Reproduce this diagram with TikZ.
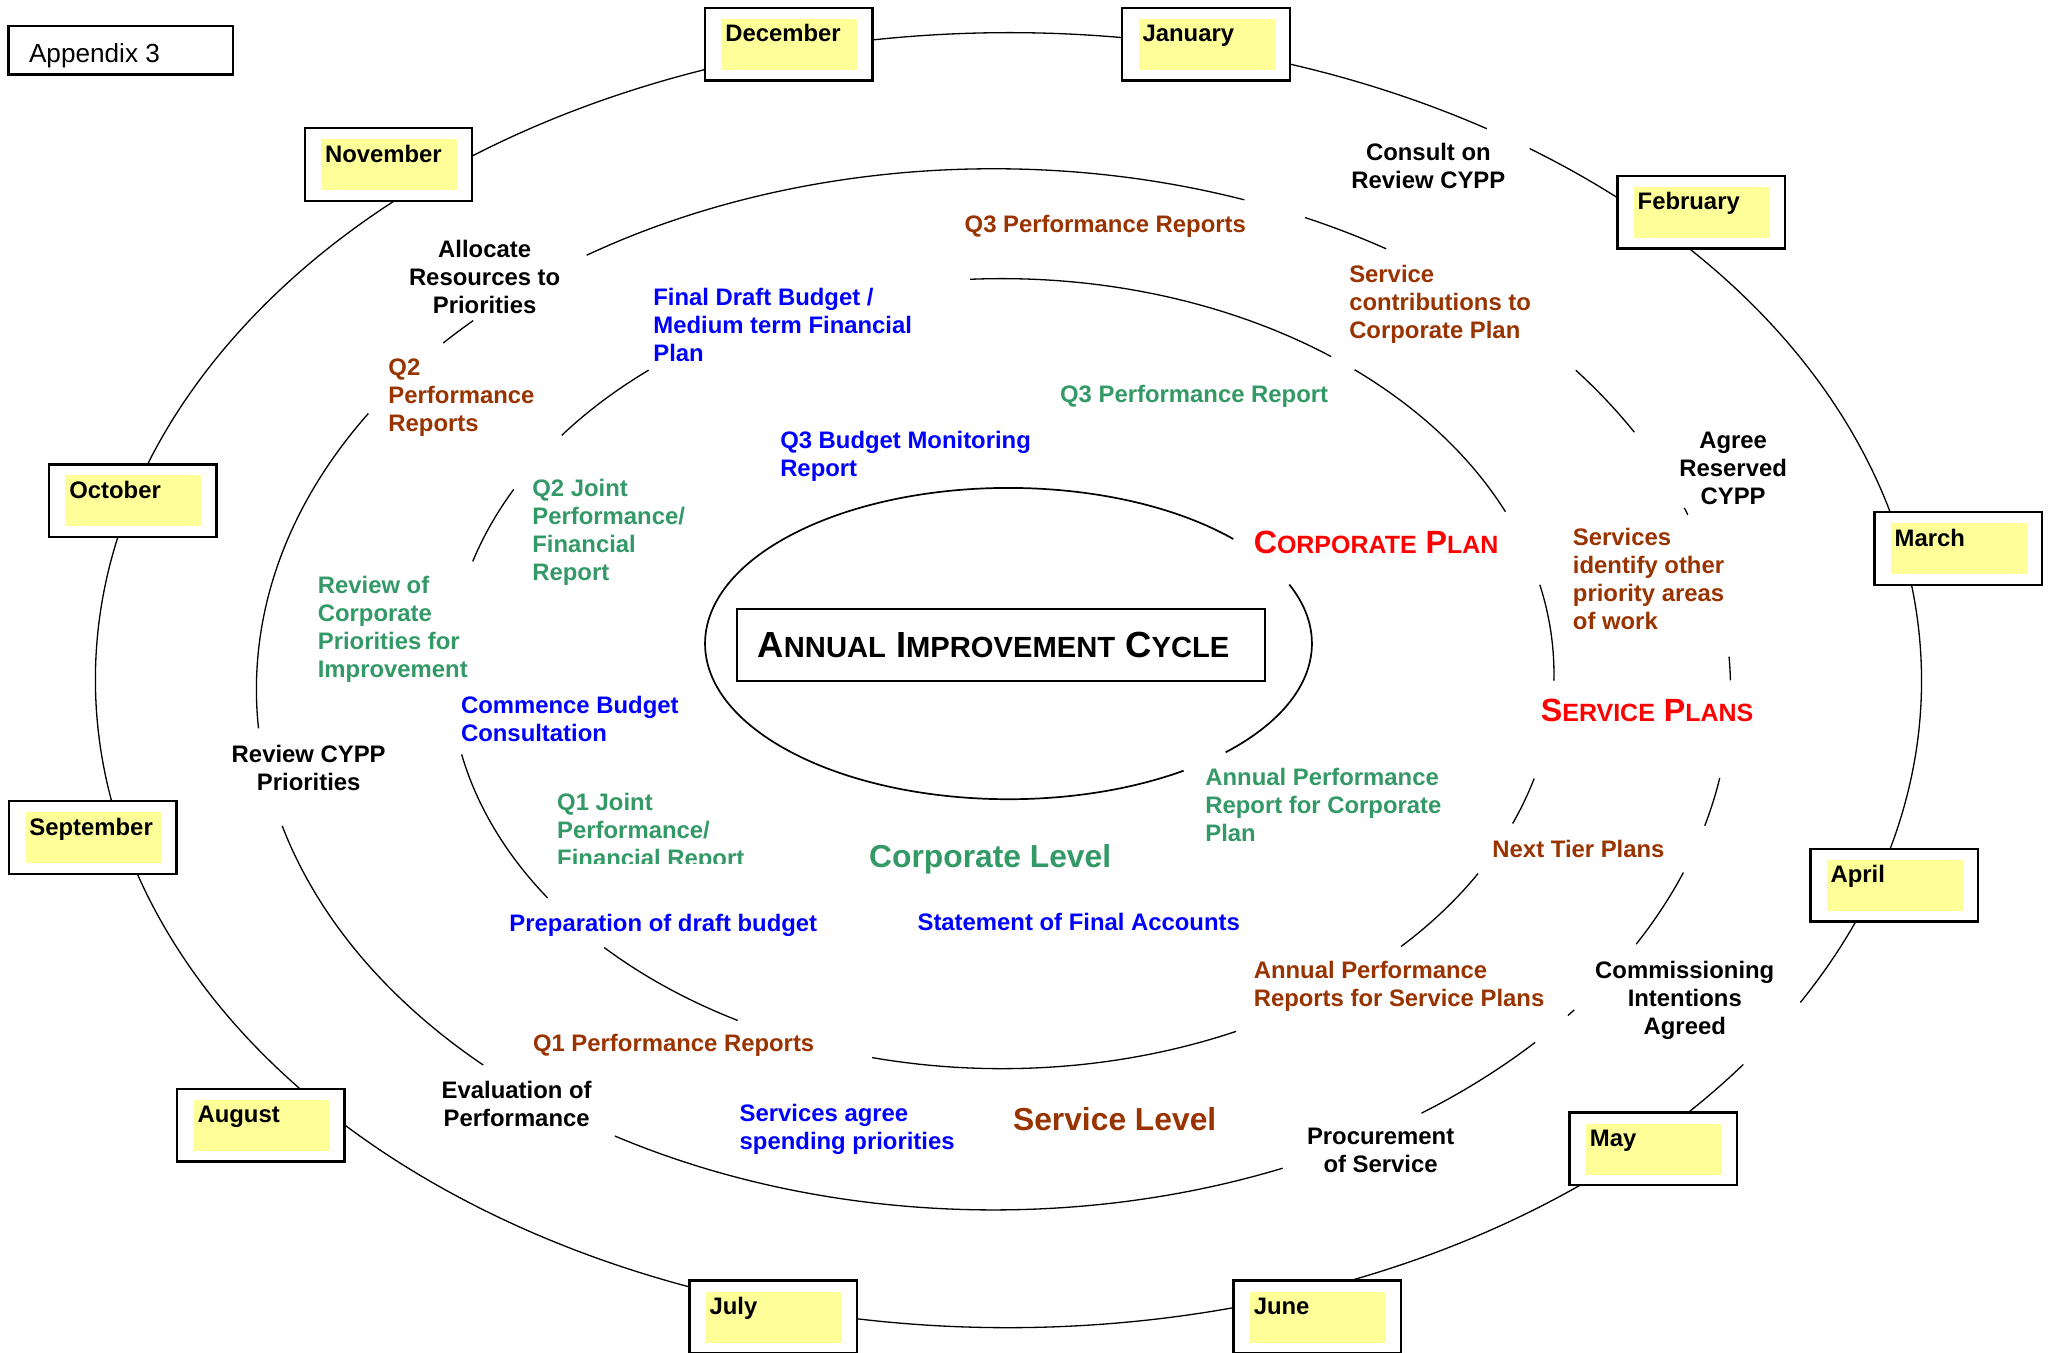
\documentclass[tikz,border=0pt]{standalone}
\usepackage{fontspec}
\setmainfont{Liberation Sans}
\definecolor{brownc}{RGB}{153,51,0}
\definecolor{greenc}{RGB}{51,153,102}
\definecolor{bluec}{RGB}{0,0,255}
\definecolor{redc}{RGB}{255,0,0}
\definecolor{yellowc}{RGB}{255,255,153}
% ring arc: [style]{centre}{x radius}{y radius}{start}{end}
\newcommand\rarc[6][ring]{\draw[#1] (#2) ++(#5:#3pt and #4pt) arc[start angle=#5, end angle=#6, x radius=#3pt, y radius=#4pt];}
\newcommand\smcap[2]{{\fontsize{#1}{#1}\selectfont #2}}
% month box: name, left, top, label
\newcommand\mkmonth[4]{%
  \node[monthframe] (#1) at (#2,-#3) {};
  \fill[yellowc] ([shift={(12.5pt,-8.5pt)}]#1.north west) rectangle ([shift={(116.5pt,-47.5pt)}]#1.north west);
  \node[lbl, anchor=base west] (#1-label) at ([shift={(15.5pt,-26pt)}]#1.north west) {#4};}
\tikzset{
  ring/.style={line width=1.0pt, black},
  innerring/.style={line width=1.3pt, black},
  monthframe/.style={draw, line width=1.8pt, fill=white, minimum width=128pt, minimum height=55.5pt, inner sep=0pt, outer sep=0pt, anchor=north west},
  lbl/.style={font=\fontsize{18.25}{21.4}\selectfont\bfseries, inner sep=0pt, outer sep=0pt},
  lft/.style={lbl, anchor=north west, align=left},
  ctr/.style={lbl, anchor=north, align=center},
  biglbl/.style={font=\fontsize{24.3}{28}\selectfont\bfseries, inner sep=0pt, outer sep=0pt, anchor=north west},
  scl/.style={font=\fontsize{24.6}{28}\selectfont\bfseries, inner sep=0pt, outer sep=0pt, anchor=north west},
}
\begin{document}
\begin{tikzpicture}[x=1pt,y=1pt]
\useasboundingbox (0,0) rectangle (1568,-1034);
\fill[white] (0,0) rectangle (1568,-1034);
\coordinate (c1) at (771,-520);
\coordinate (c2) at (759.5,-527);
\coordinate (c3) at (766,-515);
\coordinate (c4) at (771,-492);

% outer ring (months)
\rarc{c1}{698}{495}{-29.85}{55.2}
\rarc{c1}{698}{495}{58.4}{323.6}

% ring 2
\rarc{c2}{563.5}{398}{70.1}{123.5}
\rarc{c2}{563.5}{398}{57.8}{65.0}
\rarc{c2}{563.5}{398}{29.6}{37.8}
\rarc{c2}{563.5}{398}{19.6}{20.4}
\rarc{c2}{563.5}{398}{1.0}{3.6}
\rarc{c2}{563.5}{398}{-15.2}{-9.8}
\rarc{c2}{563.5}{398}{-29.3}{-20.6}
\rarc{c2}{563.5}{398}{-38.8}{-38.0}
\rarc{c2}{563.5}{398}{-54.5}{-42.7}
\rarc{c2}{563.5}{398}{-120.9}{-66.9}
\rarc{c2}{563.5}{398}{-164.8}{-133.8}
\rarc{c2}{563.5}{398}{148.0}{184.3}
\rarc{c2}{563.5}{398}{134.9}{138.3}

% ring 3
\rarc{c3}{422}{302}{53.4}{93.3}
\rarc{c3}{422}{302}{24.2}{50.3}
\rarc{c3}{422}{302}{-1.0}{13.0}
\rarc{c3}{422}{302}{-22.3}{-15.4}
\rarc{c3}{422}{302}{-43.7}{-30.4}
\rarc{c3}{422}{302}{-103.6}{-64.9}
\rarc{c3}{422}{302}{-136.1}{-118.6}
\rarc{c3}{422}{302}{-168.2}{-145.4}
\rarc{c3}{422}{302}{152.2}{163.5}
\rarc{c3}{422}{302}{129.8}{142.9}

% inner ring
\rarc[innerring]{c4}{232}{119}{42.2}{305.25}
\rarc[innerring]{c4}{232}{119}{-44.3}{22.3}

% appendix
\node[draw, line width=1.7pt, minimum width=171.5pt, minimum height=37pt, inner sep=0pt, outer sep=0pt, anchor=north west] (appbox) at (6.5,-20) {};
\node[anchor=north west, inner sep=0pt, font=\fontsize{20}{24}\selectfont] (apptext) at (22,-33.3) {Appendix 3};

% centre box
\node[draw, line width=1.7pt, fill=white, minimum width=403.5pt, minimum height=55pt, inner sep=0pt, outer sep=0pt, anchor=north west] (cyclebox) at (563.5,-465.5) {};
\node[anchor=north west, inner sep=0pt, font=\fontsize{27.8}{30}\selectfont\bfseries] (cycletext) at (579,-483) {A\smcap{22.3}{NNUAL} I\smcap{22.3}{MPROVEMENT} C\smcap{22.3}{YCLE}};

% months
\mkmonth{dec}{539}{6}{December}
\mkmonth{jan}{858}{6}{January}
\mkmonth{nov}{233}{98}{November}
\mkmonth{feb}{1236.5}{134.5}{February}
\mkmonth{oct}{37.5}{355}{October}
\mkmonth{mar}{1433}{391.5}{March}
\mkmonth{sep}{7}{612.5}{September}
\mkmonth{apr}{1384}{649}{April}
\mkmonth{aug}{135.5}{832.5}{August}
\mkmonth{may}{1200}{850.5}{May}
\mkmonth{jul}{527}{979}{July}
\mkmonth{jun}{943}{979}{June}

% black labels (ring 2)
\node[ctr] (allocate) at (370.5,-183.5) {Allocate\\Resources to\\Priorities};
\node[ctr] (consult) at (1092,-109.5) {Consult on\\Review CYPP};
\node[ctr] (agree) at (1325,-330.5) {Agree\\Reserved\\CYPP};
\node[ctr] (commission) at (1288,-734.5) {Commissioning\\Intentions\\Agreed};
\node[ctr] (procure) at (1055.5,-862.5) {Procurement\\of Service};
\node[ctr] (evaluate) at (395,-826.5) {Evaluation of\\Performance};
\node[ctr] (reviewcypp) at (236,-569.5) {Review CYPP\\Priorities};

% brown labels
\node[lft,text=brownc] (q3perfs) at (737.5,-164.5) {Q3 Performance Reports};
\node[lft,text=brownc] (servcontrib) at (1031.5,-202.5) {Service\\contributions to\\Corporate Plan};
\node[lft,text=brownc] (q2perf) at (297,-274.5) {Q2\\Performance\\Reports};
\node[lft,text=brownc] (servident) at (1202.5,-403.5) {Services\\identify other\\priority areas\\of work};
\node[lft,text=brownc] (nexttier) at (1141,-642.5) {Next Tier Plans};
\node[lft,text=brownc] (annsp) at (958.5,-734.5) {Annual Performance\\Reports for Service Plans};
\node[lft,text=brownc] (q1perf) at (407.5,-790.5) {Q1 Performance Reports};
\node[biglbl,text=brownc] (servlevel) at (774.5,-846.3) {Service Level};

% blue labels
\node[lft,text=bluec] (finaldraft) at (499.5,-220.5) {Final Draft Budget /\\Medium term Financial\\Plan};
\node[lft,text=bluec] (q3budget) at (596.5,-329.5) {Q3 Budget Monitoring\\Report};
\node[lft,text=bluec] (commence) at (352.5,-532.5) {Commence Budget\\Consultation};
\node[lft,text=bluec] (prepdraft) at (389.5,-699) {Preparation of draft budget};
\node[lft,text=bluec] (statement) at (701.5,-698.5) {Statement of Final Accounts};
\node[lft,text=bluec] (servagree) at (565.5,-844.5) {Services agree\\spending priorities};

% green labels
\node[lft,text=greenc] (q3perf) at (810.5,-294.5) {Q3 Performance Report};
\node[lft,text=greenc] (q2joint) at (407,-366) {Q2 Joint\\Performance/\\Financial\\Report};
\node[lft,text=greenc] (reviewcorp) at (243,-440.5) {Review of\\Corporate\\Priorities for\\Improvement};
\begin{scope}
  \clip (415,-595) rectangle (720,-660.5);
  \node[lft,text=greenc] (q1joint) at (426,-606.5) {Q1 Joint\\Performance/\\Financial Report};
\end{scope}
\node[lft,text=greenc] (anncp) at (921.5,-587.5) {Annual Performance\\Report for Corporate\\Plan};
\node[biglbl,text=greenc] (corplevel) at (664.5,-645.3) {Corporate Level};

% red labels
\node[scl,text=redc] (corpplan) at (958.5,-406.2) {C\smcap{19.1}{ORPORATE} P\smcap{19.1}{LAN}};
\node[scl,text=redc] (servplans) at (1178,-534.2) {S\smcap{19.1}{ERVICE} P\smcap{19.1}{LANS}};
\end{tikzpicture}
\end{document}
